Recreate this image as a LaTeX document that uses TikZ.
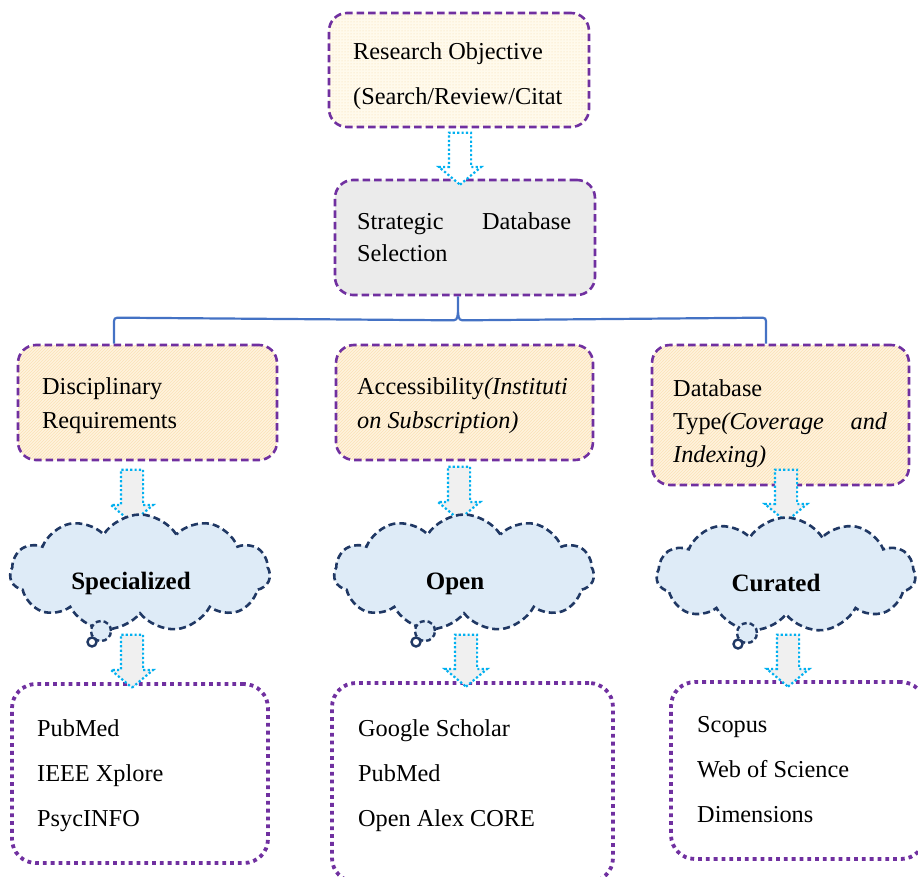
\documentclass[tikz,border=0pt]{standalone}
\usepackage{fontspec}
\setmainfont{Liberation Serif}
\usetikzlibrary{shapes.symbols,shapes.arrows,patterns,calc}
\definecolor{purp}{HTML}{7030A0}
\definecolor{navy}{HTML}{203864}
\definecolor{cyanb}{HTML}{00B0F0}
\definecolor{treeblue}{HTML}{4472C4}
\definecolor{cloudfill}{HTML}{DEEBF7}
\definecolor{graybox}{HTML}{EBEBEB}
\definecolor{arrowgray}{HTML}{F0F0F0}
\definecolor{yellowbg}{HTML}{FFFAEC}
\definecolor{dotcol}{HTML}{F5D9A8}
\definecolor{orangebg}{HTML}{FFF3DE}
\definecolor{hatchcol}{HTML}{FBE1B6}
\begin{document}
\begin{tikzpicture}[x=1pt,y=-1pt,
  dbox/.style={draw=purp, line width=2.6pt, dash pattern=on 7.5pt off 4pt, rounded corners=18pt, inner sep=0pt},
  dotbox/.style={draw=purp, line width=3.8pt, dash pattern=on 3.8pt off 4pt, rounded corners=24pt, fill=white, inner sep=0pt},
  txt/.style={font=\fontsize{24.3}{45}\selectfont, align=left, inner sep=0pt, anchor=north west},
  cloudtxt/.style={font=\fontsize{25}{28}\selectfont\bfseries, inner sep=0pt},
  cloudbox/.style={cloud, cloud puffs=11, cloud puff arc=115, cloud ignores aspect, draw=navy, fill=cloudfill, line width=2.6pt, dash pattern=on 7pt off 4pt, inner sep=0pt},
  blk/.style={single arrow, rotate=-90, draw=cyanb, fill=arrowgray, line width=2.2pt, dash pattern=on 2.2pt off 2.2pt, minimum width=40pt, single arrow head extend=10pt, single arrow tip angle=100, inner sep=10pt},
  tree/.style={draw=treeblue, line width=2.2pt},
  tail/.style={draw=navy, line width=2.4pt, dash pattern=on 5pt off 3pt}
]
\useasboundingbox (0,0) rectangle (918,877);

% top boxes
\node[dbox, preaction={fill=yellowbg}, pattern=dots, pattern color=dotcol, minimum width=260pt, minimum height=114pt] (obj) at (459,70) {};
\node[dbox, fill=graybox, minimum width=260pt, minimum height=115pt] (ssel) at (465,237.5) {};

% criteria boxes
\node[dbox, preaction={fill=orangebg}, pattern=north east lines, pattern color=hatchcol, minimum width=259pt, minimum height=115pt] (disc) at (147.5,402.5) {};
\node[dbox, preaction={fill=orangebg}, pattern=north east lines, pattern color=hatchcol, minimum width=257pt, minimum height=115pt] (acc) at (464.5,402.5) {};
\node[dbox, preaction={fill=orangebg}, pattern=north east lines, pattern color=hatchcol, minimum width=257pt, minimum height=140pt] (dtype) at (780.5,415) {};

% list boxes
\node[dotbox, minimum width=256pt, minimum height=179pt] (lst1) at (140,773.5) {};
\node[dotbox, minimum width=281pt, minimum height=199pt] (lst2) at (472.5,782.5) {};
\node[dotbox, minimum width=254pt, minimum height=177pt] (lst3) at (798,770.5) {};

% block arrows
\node[blk, fill=white, minimum height=52pt] (a1) at (460,154) {};
\node[blk, minimum height=53pt] (a2) at (132,491.5) {};
\node[blk, minimum height=53pt] (a3) at (459,488.5) {};
\node[blk, minimum height=52pt] (a4) at (786,491) {};
\node[blk, minimum height=53pt] (a5) at (132,656.5) {};
\node[blk, minimum height=52pt] (a6) at (466,656) {};
\node[blk, minimum height=52pt] (a7) at (788,656) {};

% clouds
\node[cloudbox, minimum width=260pt, minimum height=117pt] (spec) at (140,573) {};
\node[cloudbox, minimum width=260pt, minimum height=117pt] (open) at (464,573) {};
\node[cloudbox, minimum width=259pt, minimum height=115pt] (cur) at (786,575) {};
\node[cloudtxt] (spect) at ($(spec.center)+(-9,10)$) {Specialized};
\node[cloudtxt] (opent) at ($(open.center)+(-9,11)$) {Open};
\node[cloudtxt] (curt) at ($(cur.center)+(-10,8)$) {Curated};
\foreach \c in {spec,open,cur}{
  \draw[tail, fill=cloudfill] ($(\c.center)+(-39,58)$) circle[radius=10pt];
  \draw[navy, line width=2.4pt] ($(\c.center)+(-48,69)$) circle[radius=4.5pt];
}

% tree connector
\coordinate (jt) at ($(ssel.south)+(-7,0)$);
\coordinate (jl) at ($(disc.north)+(-33.5,0)$);
\coordinate (jr) at ($(dtype.north)+(-14.5,0)$);
\draw[tree] (jt) -- ($(jt)+(0,16)$) .. controls ($(jt)+(-1,24)$) .. ($(jt)+(-8,24)$) -- ($(jl)+(7,-26)$) .. controls ($(jl)+(0,-26)$) .. ($(jl)+(0,-19)$) -- (jl);
\draw[tree] ($(jt)+(0,16)$) .. controls ($(jt)+(1,24)$) .. ($(jt)+(8,24)$) -- ($(jr)+(-7,-26)$) .. controls ($(jr)+(0,-26)$) .. ($(jr)+(0,-19)$) -- (jr);

% texts
\node[txt] (objt) at (353,42) {Research Objective\\(Search/Review/Citat};
\node[txt, font=\fontsize{24.3}{32}\selectfont, text width=214pt] (sselt) at (357,212) {Strategic\hfill Database\\Selection};
\node[txt, font=\fontsize{24.3}{34}\selectfont] (disct) at (42,377) {Disciplinary\\Requirements};
\node[txt, font=\fontsize{24.3}{34}\selectfont] (acct) at (357,377) {Accessibility\textit{(Instituti}\\\textit{on Subscription)}};
\node[txt, font=\fontsize{24.3}{33}\selectfont, text width=214pt] (dtypet) at (673,379) {Database\\Type\textit{(Coverage}\hfill\textit{and}\\\textit{Indexing)}};
\node[txt] (lst1t) at (37,719) {PubMed\\IEEE Xplore\\PsycINFO};
\node[txt] (lst2t) at (358,719) {Google Scholar\\PubMed\\Open Alex CORE};
\node[txt] (lst3t) at (697,716) {Scopus\\Web of Science\\Dimensions};
\end{tikzpicture}
\end{document}
